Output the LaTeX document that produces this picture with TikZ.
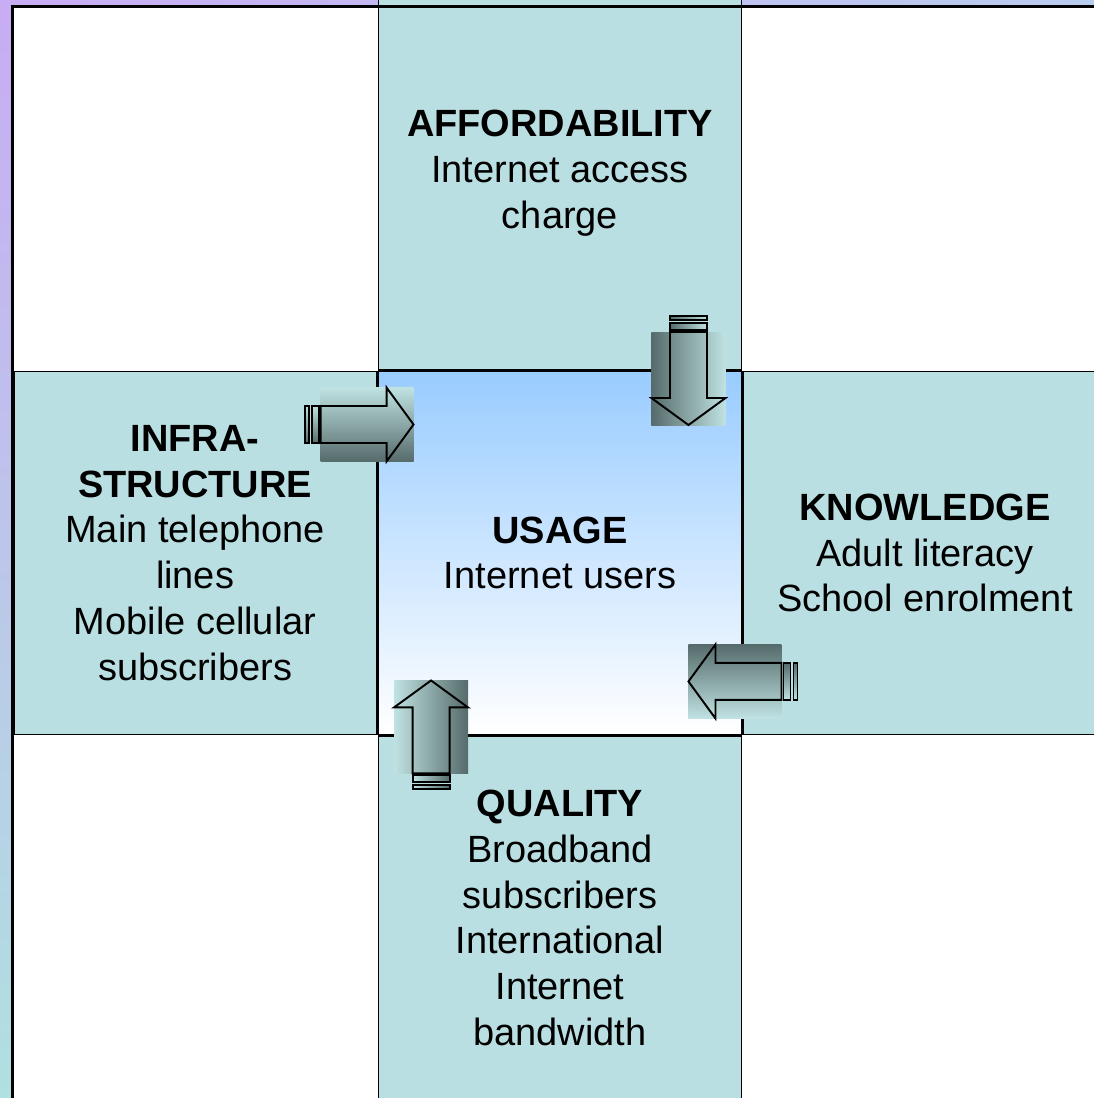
\documentclass[tikz,border=0pt]{standalone}
\usepackage{fontspec}
\setmainfont{Liberation Sans}
\usetikzlibrary{positioning}
\definecolor{bgPurple}{HTML}{C8ACF4}
\definecolor{bgBlue}{HTML}{B8CCEE}
\definecolor{bgTeal}{HTML}{B0E0E0}
\definecolor{cellFill}{HTML}{BADFE2}
\definecolor{hubTop}{HTML}{99CCFF}
\definecolor{arrowLight}{HTML}{C0E2E2}
\definecolor{arrowDark}{HTML}{566B6B}

\begin{document}
\begin{tikzpicture}[
    % Global Styles
    font=\fontsize{21.6}{26.1}\selectfont,
    % Box Styles
    cell/.style={
        rectangle,
        draw=black,
        line width=1.1pt,
        fill=cellFill,
        align=center,
        minimum width=7.26cm,
        minimum height=7.26cm,
        inner sep=0pt
    },
    hub/.style={
        cell,
        top color=hubTop,
        bottom color=white
    },
    % Block arrow, tip at the origin, turned by #1
    pics/blockarrow/.style={
        code={
            \shade[top color=arrowLight, bottom color=arrowDark, shading angle=#1]
                (-1.86,-0.74) rectangle (0,0.74);
            \draw[line width=1.1pt, line join=miter]
                (-1.86,0.37) -- (-0.54,0.37) -- (-0.54,0.74) -- (0,0)
                -- (-0.54,-0.74) -- (-0.54,-0.37) -- (-1.86,-0.37) -- cycle;
            \shade[draw=black, line width=1.1pt, top color=arrowLight, bottom color=arrowDark, shading angle=#1]
                (-2.18,-0.37) rectangle (-2.10,0.37);
            \shade[draw=black, line width=1.1pt, top color=arrowLight, bottom color=arrowDark, shading angle=#1]
                (-2.04,-0.37) rectangle (-1.90,0.37);
        }
    }
]

    \path[use as bounding box, clip] (0,0) rectangle (21.88,21.96);

    % --- Background ---
    \shade[left color=bgPurple, right color=bgBlue] (0,21.6) rectangle (21.88,21.96);
    \shade[top color=bgPurple, middle color=bgBlue, bottom color=bgTeal] (0,0) rectangle (0.4,21.96);
    \fill[white] (0.25,-1) rectangle (23,21.83);

    % --- Nodes ---

    % Centre: usage
    \node[hub] (usage) at (11.2,10.9) {\textbf{USAGE}\\Internet users};

    % Top: affordability (runs up under the frame)
    \node[cell, above=0pt of usage, minimum height=7.86cm] (afford)
        {\textbf{AFFORDABILITY}\\Internet access\\charge};

    % Left: infrastructure
    \node[cell, left=0pt of usage] (infra)
        {\textbf{INFRA-}\\\textbf{STRUCTURE}\\Main telephone\\lines\\Mobile cellular\\subscribers};

    % Right: knowledge
    \node[cell, right=0pt of usage] (know)
        {\textbf{KNOWLEDGE}\\Adult literacy\\School enrolment};

    % Bottom: quality
    \node[cell, below=0pt of usage] (quality)
        {\textbf{QUALITY}\\Broadband\\subscribers\\International\\Internet\\bandwidth};

    % --- Arrows into the centre ---
    \pic[rotate=0] at ([shift={(0.72,-1.08)}]usage.north west) {blockarrow=0};
    \pic[rotate=-90] at ([shift={(-1.08,-1.09)}]usage.north east) {blockarrow=-90};
    \pic[rotate=180] at ([shift={(-1.08,1.08)}]usage.south east) {blockarrow=180};
    \pic[rotate=90] at ([shift={(1.07,1.10)}]usage.south west) {blockarrow=90};

    % --- Frame ---
    \draw[line width=1.7pt] (0.25,-1) -- (0.25,21.83) -- (23,21.83);

\end{tikzpicture}
\end{document}
